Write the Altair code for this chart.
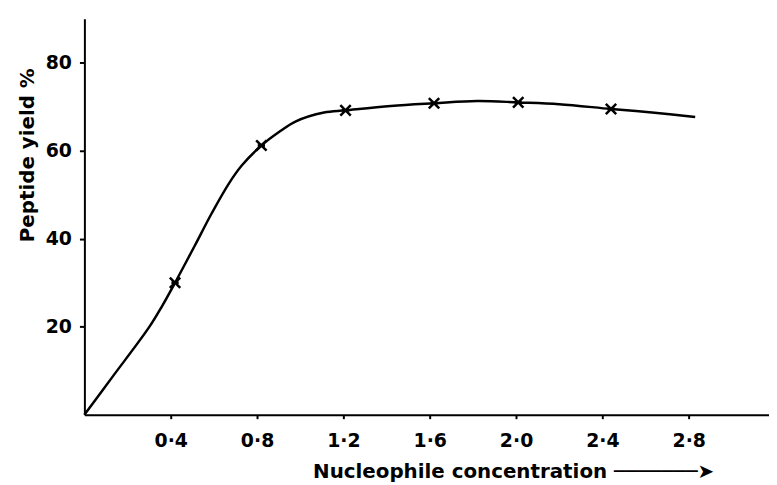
import altair as alt
import pandas as pd

# Measured points (crosses)
marker_x = [0.42, 0.82, 1.21, 1.62, 2.01, 2.44]
marker_y = [30.0, 61.2, 69.2, 70.8, 71.0, 69.5]

# Hand-drawn curve
curve_x = [0, 0.13, 0.30, 0.36, 0.42, 0.51, 0.59, 0.67, 0.73, 0.82, 0.90,
           0.98, 1.11, 1.21, 1.42, 1.62, 1.82, 2.01, 2.20, 2.44, 2.63, 2.83]
curve_y = [0, 8.6, 19.9, 24.7, 30.0, 38.3, 45.8, 52.6, 56.7, 61.2, 64.2,
           66.7, 68.7, 69.2, 70.2, 70.8, 71.3, 71.0, 70.6, 69.5, 68.7, 67.7]

x_ticks = [0.4, 0.8, 1.2, 1.6, 2.0, 2.4, 2.8]
y_ticks = [20, 40, 60, 80]

pts = pd.DataFrame({"x": marker_x, "y": marker_y})
curve = pd.DataFrame({"x": curve_x, "y": curve_y})

FONT = "DejaVu Sans"

x_enc = alt.X(
    "x:Q",
    scale=alt.Scale(domain=[0, 3.172], nice=False, zero=True),
    axis=alt.Axis(
        values=x_ticks,
        labelExpr="replace(format(datum.value, '.1f'), '.', '·')",
        title="Nucleophile concentration ───────➤",
        titleFont=FONT, titleFontSize=20, titleFontWeight="bold",
        titleAlign="left", titleAnchor="start", titleX=230, titleY=63,
        titleBaseline="alphabetic",
        labelFont=FONT, labelFontSize=19, labelFontWeight="bold",
        labelPadding=13,
        tickSize=4, tickWidth=2, tickColor="black",
        domainColor="black", domainWidth=2, grid=False,
        labelColor="black", titleColor="black",
    ),
)
y_enc = alt.Y(
    "y:Q",
    scale=alt.Scale(domain=[0, 90], nice=False),
    axis=alt.Axis(
        values=y_ticks,
        title="Peptide yield %",
        titleFont=FONT, titleFontSize=20, titleFontWeight="bold",
        titleAngle=-90, titleAlign="center", titleBaseline="middle",
        titleX=-57, titleY=137,
        labelFont=FONT, labelFontSize=19, labelFontWeight="bold",
        labelPadding=8,
        tickSize=5, tickWidth=2, tickColor="black",
        domainColor="black", domainWidth=2, grid=False,
        labelColor="black", titleColor="black",
    ),
)

line = alt.Chart(curve).mark_line(
    color="black", strokeWidth=2.5, interpolate="catmull-rom"
).encode(x=x_enc, y=y_enc)

marks = alt.Chart(pts).mark_point(
    shape="M-1,-1L1,1M-1,1L1,-1M-0.7,0L0.7,0",
    filled=False, stroke="black", strokeWidth=2.5, size=110, opacity=1,
).encode(x="x:Q", y="y:Q")

chart = (
    alt.layer(line, marks)
    .properties(
        width=690, height=399,
        autosize="none",
        padding={"left": 77, "top": 9, "right": 0, "bottom": 74},
        view=alt.ViewBackground(stroke="transparent", strokeWidth=0),
    )
    .configure_view(strokeWidth=0, stroke="transparent")
    .configure(background="white")
)

chart.save("out.html", embed_options={"renderer": "svg", "actions": False})
